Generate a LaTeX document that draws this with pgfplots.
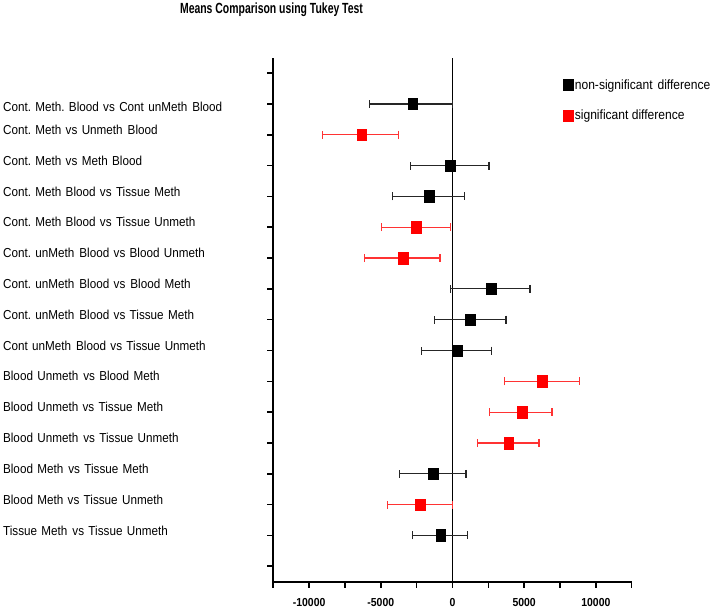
\documentclass[border=0pt]{standalone}
\usepackage{fontspec}
\setmainfont{Liberation Sans}[FakeStretch=0.90]
\newfontfamily\titlefont{Liberation Sans}[FakeStretch=0.71]
\usepackage{pgfplots}
\usepackage{pgfplotstable}
\pgfplotsset{compat=1.18}
\newcommand\ds{\hspace{5pt}}

% non-significant comparisons: position, lower limit, mean, upper limit
\pgfplotstableread{
y lo m hi
15 -5767 -2769 0
13 -2957 -167 2552
12 -4163 -1632 837
9 -167 2692 5412
8 -1255 1255 3738
7 -2162 321 2720
3 -3675 -1353 948
1 -2769 -816 1067
}\nonsig

% significant comparisons
\pgfplotstableread{
y lo m hi
14 -9066 -6346 -3745
11 -4979 -2538 -167
10 -6137 -3445 -865
6 3647 6249 8878
5 2601 4854 6946
4 1743 3926 6039
2 -4561 -2260 0
}\sig

\begin{document}
\frenchspacing
\begin{tikzpicture}[x=1pt,y=1pt]
\path (0,0) rectangle (713,609);
\begin{axis}[
  at={(273.3pt,28pt)}, anchor=south west,
  scale only axis, width=358.4pt, height=524pt,
  xmin=-12500, xmax=12500, ymin=-0.5, ymax=16.5,
  axis x line*=bottom, axis y line*=left,
  axis line style={line width=1.7pt, black},
  tick align=outside,
  tick style={line width=1.6pt, black},
  major tick length=6pt, minor tick length=6pt,
  scaled x ticks=false,
  xtick={-10000,-5000,0,5000,10000},
  xticklabels={-10000,-5000,0,5000,10000},
  minor xtick={-12500,-7500,-2500,2500,7500,12500},
  xticklabel style={font=\bfseries\fontsize{11.6}{13}\selectfont, yshift=-7pt},
  ytick={0,1,2,3,4,5,6,7,8,9,10,11,12,13,14,16},
  yticklabels={,
    Tissue Meth\ds vs Tissue Unmeth,
    Blood Meth vs Tissue Unmeth,
    Blood Meth\ds vs Tissue Meth,
    Blood Unmeth\ds vs Tissue Unmeth,
    Blood Unmeth vs Tissue Meth,
    Blood Unmeth\ds vs Blood Meth,
    Cont unMeth\ds Blood vs Tissue Unmeth,
    Cont. unMeth\ds Blood vs Tissue Meth,
    Cont. unMeth\ds Blood vs\ds Blood Meth,
    Cont. unMeth\ds Blood vs Blood Unmeth,
    Cont. Meth Blood vs Tissue Unmeth,
    Cont. Meth Blood vs Tissue Meth,
    Cont. Meth vs Meth Blood,
    Cont. Meth vs Unmeth\ds Blood,
    },
  extra y ticks={15},
  extra y tick labels={Cont. Meth. Blood vs Cont unMeth\ds Blood},
  extra y tick style={yticklabel style={yshift=-8pt}},
  yticklabel style={font=\frenchspacing\fontsize{13}{15}\selectfont, text width=264pt,
    align=left, inner sep=0pt, yshift=5pt},
  every axis title/.style={at={(axis description cs:-0.005,1.0834)}, anchor=base,
    font=\titlefont\bfseries\fontsize{14.7}{16}\selectfont},
  title={Means Comparison using Tukey Test},
  legend image code/.code={\draw[#1] plot coordinates {(5pt,0pt)};},
  legend style={draw=none, fill=none, at={(axis cs:7713,15.87)}, anchor=north west,
    inner sep=0pt, row sep=15.7pt, font=\fontsize{13.4}{14}\selectfont},
  legend cell align=left,
]
\addplot[black, line width=1.6pt, forget plot] coordinates {(0,-0.5) (0,16.5)};
\addplot[black, only marks, mark=square*, mark size=4.8pt, mark options={yscale=1.2},
  error bars/.cd, x dir=both, x explicit, error mark=|,
  error bar style={line width=1.2pt, black!85},
  error mark options={mark size=4pt, line width=1.2pt, black!85}]
  table[x=m, y=y, x error plus expr=\thisrow{hi}-\thisrow{m},
        x error minus expr=\thisrow{m}-\thisrow{lo}] {\nonsig};
\addlegendentry{non-significant\ds difference}
\addplot[red, only marks, mark=square*, mark size=4.8pt, mark options={yscale=1.2},
  error bars/.cd, x dir=both, x explicit, error mark=|,
  error bar style={line width=1.2pt, red!80},
  error mark options={mark size=4pt, line width=1.2pt, red!80}]
  table[x=m, y=y, x error plus expr=\thisrow{hi}-\thisrow{m},
        x error minus expr=\thisrow{m}-\thisrow{lo}] {\sig};
\addlegendentry{significant difference}
\end{axis}
\end{tikzpicture}
\end{document}
